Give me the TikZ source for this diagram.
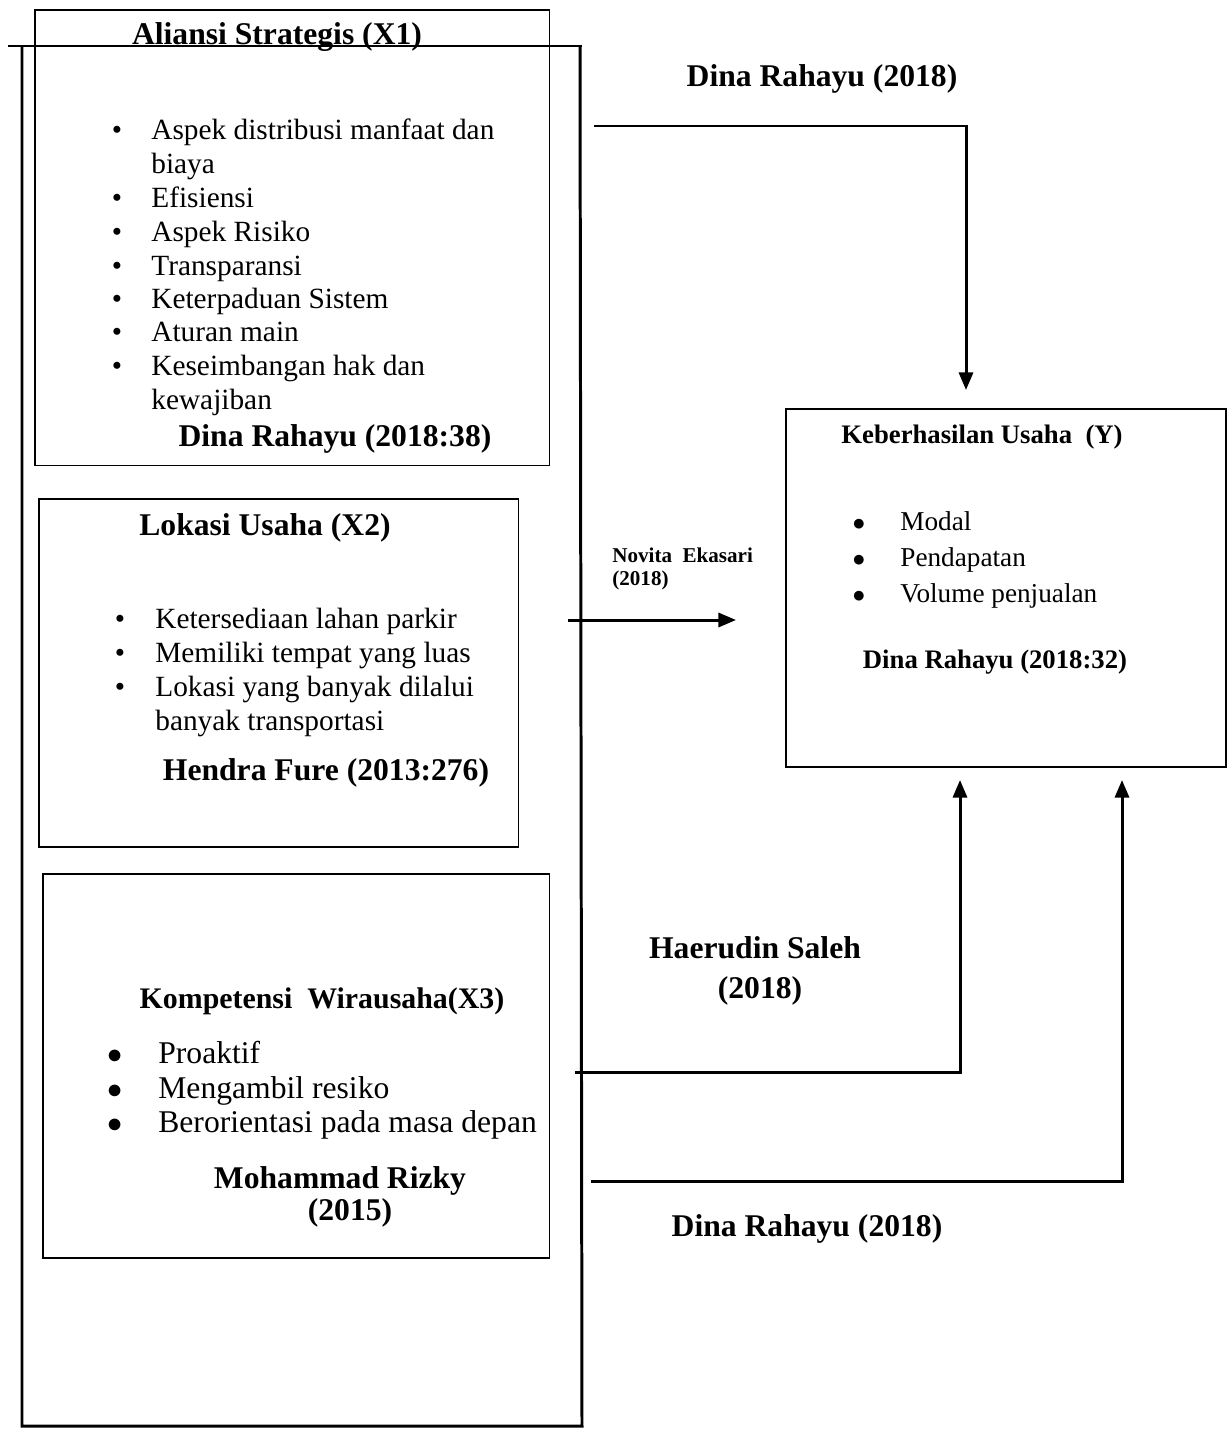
\documentclass[tikz,border=0pt]{standalone}
\usepackage{fontspec}
\setmainfont{Liberation Serif}
\usetikzlibrary{arrows.meta}

\tikzset{
  box/.style={draw, line width=0.9pt, anchor=north west, inner sep=0pt},
  frame/.style={line width=1.7pt},
  link/.style={line width=1.7pt, -{Triangle[length=10pt,width=8pt]}},
  item/.style={anchor=base west, inner sep=0pt, font=\fontsize{16.7}{19}\selectfont},
  bigitem/.style={anchor=base west, inner sep=0pt, font=\fontsize{18}{21}\selectfont},
  smallitem/.style={anchor=base west, inner sep=0pt, font=\fontsize{15.5}{18}\selectfont},
  head/.style={anchor=base, inner sep=0pt, font=\bfseries\fontsize{18}{21}\selectfont},
  smallhead/.style={anchor=base, inner sep=0pt, font=\bfseries\fontsize{15.2}{18}\selectfont}
}

\begin{document}
\begin{tikzpicture}[x=0.02cm, y=-0.02cm]
	\useasboundingbox (0,0) rectangle (1227,1430);
	
	% outer frame
	\draw[frame] (8,46) -- (582,46);
	\draw[frame] (22,46) -- (22,1426) -- (582,1426) -- (580,46);
	
	% boxes
	\node[box, minimum width=10.3cm, minimum height=9.12cm] (x1) at (34,9) {};
	\node[box, minimum width=9.6cm, minimum height=6.96cm] (x2) at (38,498) {};
	\node[box, minimum width=10.14cm, minimum height=7.68cm] (x3) at (42,873) {};
	\node[box, minimum width=8.8cm, minimum height=7.16cm] (y) at (785,408) {};
	
	% X1
	\node[head] (x1t) at (277,44) {Aliansi Strategis (X1)};
	\foreach \yy in {139,207,241,275,308,341,375}
	  \node[item, anchor=base] at (117,\yy) {\textbullet};
	\node[item] (x1a) at (151,139) {Aspek distribusi manfaat dan};
	\node[item] (x1b) at (151,173) {biaya};
	\node[item] (x1c) at (151,207) {Efisiensi};
	\node[item] (x1d) at (151,241) {Aspek Risiko};
	\node[item] (x1e) at (151,275) {Transparansi};
	\node[item] (x1f) at (151,308) {Keterpaduan Sistem};
	\node[item] (x1g) at (151,341) {Aturan main};
	\node[item] (x1h) at (151,375) {Keseimbangan hak dan};
	\node[item] (x1i) at (151,409) {kewajiban};
	\node[head] (x1s) at (335,446) {Dina Rahayu (2018:38)};
	
	% X2
	\node[head] (x2t) at (265,535) {Lokasi Usaha (X2)};
	\foreach \yy in {628,662,696}
	  \node[item, anchor=base] at (120,\yy) {\textbullet};
	\node[item] (x2a) at (155,628) {Ketersediaan lahan parkir};
	\node[item] (x2b) at (155,662) {Memiliki tempat yang luas};
	\node[item] (x2c) at (155,696) {Lokasi yang banyak dilalui};
	\node[item] (x2d) at (155,730) {banyak transportasi};
	\node[head] (x2s) at (326,780) {Hendra Fure (2013:276)};
	
	% X3
	\node[head, font=\bfseries\fontsize{17}{20}\selectfont] (x3t) at (322,1008) {Kompetensi\ \ Wirausaha(X3)};
	\foreach \yy in {1063,1098,1132}
	  \node[bigitem, anchor=base] at (115,\yy) {$\bullet$};
	\node[bigitem] (x3a) at (158,1063) {Proaktif};
	\node[bigitem] (x3b) at (158,1098) {Mengambil resiko};
	\node[bigitem] (x3c) at (158,1132) {Berorientasi pada masa depan};
	\node[head] (x3s) at (340,1188) {Mohammad Rizky};
	\node[head] (x3y) at (350,1220) {(2015)};
	
	% Y
	\node[smallhead] (yt) at (982,443) {Keberhasilan Usaha\ \ (Y)};
	\foreach \yy in {530,566,602}
	  \node[smallitem, anchor=base] at (859,\yy) {$\bullet$};
	\node[smallitem] (ya) at (900,530) {Modal};
	\node[smallitem] (yb) at (900,566) {Pendapatan};
	\node[smallitem] (yc) at (900,602) {Volume penjualan};
	\node[smallhead] (ys) at (995,668) {Dina Rahayu (2018:32)};
	
	% connectors
	\coordinate (s1) at (594,126);
	\coordinate (e1) at (966,390);
	\coordinate (s2) at (568,620);
	\coordinate (e2) at (736,620);
	\coordinate (s3) at (575,1072);
	\coordinate (e3) at (960,780);
	\coordinate (s4) at (591,1181);
	\coordinate (e4) at (1122,780);
	\draw[link] (s1) -| (e1);
	\draw[link] (s2) -- (e2);
	\draw[link] (s3) -| (e3);
	\draw[link] (s4) -| (e4);
	
	% labels
	\node[head] (l1) at (822,86) {Dina Rahayu (2018)};
	\node[anchor=base west, inner sep=0pt, font=\bfseries\fontsize{12}{13}\selectfont] (l2) at (612,562) {Novita\ \ Ekasari};
	\node[anchor=base west, inner sep=0pt, font=\bfseries\fontsize{12}{13}\selectfont] (l2y) at (612,585) {(2018)};
	\node[head] (l3) at (755,958) {Haerudin Saleh};
	\node[head] (l3y) at (760,998) {(2018)};
	\node[head] (l4) at (807,1236) {Dina Rahayu (2018)};
\end{tikzpicture}
\end{document}
